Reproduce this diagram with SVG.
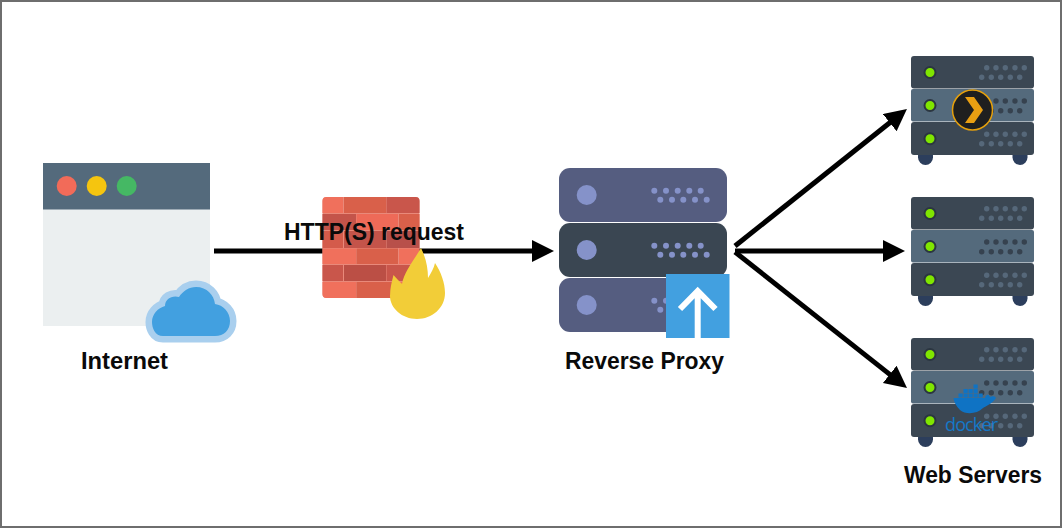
<svg xmlns="http://www.w3.org/2000/svg" xmlns:xlink="http://www.w3.org/1999/xlink" width="1062" height="528" viewBox="0 0 1062 528">
<style>
.label{font-family:"Liberation Sans",Arial,sans-serif;font-weight:700;fill:#0a0a0a}
.conn{stroke:#000;stroke-width:5;fill:none}
.led{fill:#80e600;stroke:#2b3640;stroke-width:2}
.d1{fill:#56687a}
.d2{fill:#36424f}
.p{fill:#8592c9}
</style>
<defs>
<marker id="head" markerUnits="userSpaceOnUse" markerWidth="24" markerHeight="24" refX="2" refY="11" orient="auto"><path d="M0 0L22 11L0 22Z" fill="#000"/></marker>
<g id="srv">
<rect x="918" y="148" width="15" height="17" rx="7.500" fill="#2c3e5c"/>
<rect x="1012.500" y="148" width="15" height="17" rx="7.500" fill="#2c3e5c"/>
<rect x="911" y="56" width="123" height="32.500" rx="3" fill="#3b4753"/>
<rect x="911" y="89" width="123" height="32.500" rx="2" fill="#546a7c"/>
<rect x="911" y="122" width="123" height="33" rx="3" fill="#3b4753"/>
<circle class="led" cx="930" cy="72.500" r="5.500"/><circle class="led" cx="930" cy="105.500" r="5.500"/><circle class="led" cx="930" cy="138.700" r="5.500"/>
<g class="d1"><circle cx="986.700" cy="67.700" r="2.700"/><circle cx="996" cy="67.700" r="2.700"/><circle cx="1005.300" cy="67.700" r="2.700"/><circle cx="1015" cy="67.700" r="2.700"/><circle cx="1024.300" cy="67.700" r="2.700"/><circle cx="981.700" cy="77.300" r="2.700"/><circle cx="991.300" cy="77.300" r="2.700"/><circle cx="1000.700" cy="77.300" r="2.700"/><circle cx="1010.300" cy="77.300" r="2.700"/><circle cx="1019.700" cy="77.300" r="2.700"/>
<circle cx="986.700" cy="134.300" r="2.700"/><circle cx="996" cy="134.300" r="2.700"/><circle cx="1005.300" cy="134.300" r="2.700"/><circle cx="1015" cy="134.300" r="2.700"/><circle cx="1024.300" cy="134.300" r="2.700"/><circle cx="981.700" cy="143.700" r="2.700"/><circle cx="991.300" cy="143.700" r="2.700"/><circle cx="1000.700" cy="143.700" r="2.700"/><circle cx="1010.300" cy="143.700" r="2.700"/><circle cx="1019.700" cy="143.700" r="2.700"/></g>
<g class="d2"><circle cx="986.700" cy="101" r="2.700"/><circle cx="996" cy="101" r="2.700"/><circle cx="1005.300" cy="101" r="2.700"/><circle cx="1015" cy="101" r="2.700"/><circle cx="1024.300" cy="101" r="2.700"/><circle cx="981.700" cy="110.700" r="2.700"/><circle cx="991.300" cy="110.700" r="2.700"/><circle cx="1000.700" cy="110.700" r="2.700"/><circle cx="1010.300" cy="110.700" r="2.700"/><circle cx="1019.700" cy="110.700" r="2.700"/></g>
</g>
<g id="pdots" class="p"><circle cx="654.300" cy="0" r="3"/><circle cx="666" cy="0" r="3"/><circle cx="677.700" cy="0" r="3"/><circle cx="689.300" cy="0" r="3"/><circle cx="700.700" cy="0" r="3"/><circle cx="660.300" cy="9" r="3"/><circle cx="672" cy="9" r="3"/><circle cx="683.300" cy="9" r="3"/><circle cx="695" cy="9" r="3"/><circle cx="706.700" cy="9" r="3"/></g>
</defs>
<rect width="1062" height="528" fill="#fff"/>
<rect x="1" y="1" width="1060" height="526" fill="none" stroke="#6e6e6e" stroke-width="2"/>

<g id="connectors">
<line class="conn" x1="214" y1="251" x2="534" y2="251" marker-end="url(#head)"/>
<line class="conn" x1="735" y1="246" x2="891.300" y2="121.500" marker-end="url(#head)"/>
<line class="conn" x1="735" y1="251" x2="885" y2="251" marker-end="url(#head)"/>
<line class="conn" x1="735" y1="252" x2="891.300" y2="375.600" marker-end="url(#head)"/>
</g>

<g id="internet">
<rect x="43" y="209" width="167" height="117" fill="#ebeff0"/>
<rect x="43" y="163" width="167" height="46.500" fill="#546a7c"/>
<circle cx="66.700" cy="186" r="10" fill="#f26b59"/>
<circle cx="96.700" cy="186" r="10" fill="#f5c50f"/>
<circle cx="126.700" cy="186" r="10" fill="#45b864"/>
<path d="M163 336C155 336 152 328 152 322C152 314 158 308 165 306C165 299 172 295 179 297C183 291 189 287 196 287C207 287 214 295 215 304C223 305 230 312 230 321C230 330 224 336 215 336Z" fill="#42a0e0" stroke="#a9cfee" stroke-width="13" stroke-linejoin="round" paint-order="stroke"/>
<text class="label" x="81" y="369" font-size="23" textLength="87" lengthAdjust="spacingAndGlyphs">Internet</text>
</g>

<g id="firewall">
<rect x="322.500" y="197" width="97" height="101" rx="4" fill="#e9897a"/>
<path d="M322.500 213V201a4 4 0 0 1 4-4H343V213Z" fill="#f0705c"/><rect x="344" y="197" width="42" height="16" fill="#d9604a"/><path d="M386.500 197H415.500a4 4 0 0 1 4 4V213H386.500Z" fill="#c9564b"/>
<rect x="322.500" y="214" width="33.500" height="16" fill="#c4544a"/><rect x="356.500" y="214" width="41.500" height="16" fill="#ee6a58"/><rect x="399" y="214" width="20.500" height="16" fill="#d9604a"/>
<rect x="322.500" y="231" width="20.500" height="17" fill="#d45b4b"/><rect x="344" y="231" width="42" height="17" fill="#c4544a"/><rect x="386.500" y="231" width="33" height="17" fill="#b8504a"/>
<rect x="322.500" y="248.500" width="33.500" height="15.500" fill="#f0705c"/><rect x="356.500" y="248.500" width="41.500" height="15.500" fill="#d9604a"/><rect x="399" y="248.500" width="20.500" height="15.500" fill="#f0705c"/>
<rect x="322.500" y="265" width="20.500" height="16" fill="#c9564b"/><rect x="344" y="265" width="42" height="16" fill="#bb4f45"/><rect x="386.500" y="265" width="33" height="16" fill="#c9564b"/>
<path d="M322.500 282H356V298H326.500a4 4 0 0 1-4-4Z" fill="#f0705c"/><rect x="356.500" y="282" width="41.500" height="16" fill="#d9604a"/><path d="M399 282H419.500V294a4 4 0 0 1-4 4H399Z" fill="#f0705c"/>
<path d="M421 248C426 258 428 268 428 278C431 273 434 268 435 263C441 272 445 283 445 293C445 308 432 319 417 319C402 319 390 308 390 296C390 288 392 281 393.500 275C396 278 399 281 402 284C404 272 414 260 421 248Z" fill="#f2cd38"/>
</g>
<text class="label" x="284" y="240" font-size="23" textLength="180" lengthAdjust="spacingAndGlyphs">HTTP(S) request</text>

<g id="reverse-proxy">
<rect x="559" y="168" width="168" height="54" rx="11" fill="#555d80"/>
<rect x="559" y="223" width="168" height="54" rx="11" fill="#3a4652"/>
<rect x="559" y="278" width="168" height="54" rx="11" fill="#555d80"/>
<circle class="p" cx="586.700" cy="195" r="10"/><circle class="p" cx="586.700" cy="250" r="10"/><circle class="p" cx="586.700" cy="305" r="10"/>
<use xlink:href="#pdots" href="#pdots" y="190.700"/><use xlink:href="#pdots" href="#pdots" y="245.700"/><use xlink:href="#pdots" href="#pdots" y="300.700"/>
<rect x="666" y="274" width="63.500" height="64" fill="#42a0e0"/>
<path d="M697.700 338V291M680 309L697.700 291L715.500 309" fill="none" stroke="#fff" stroke-width="6"/>
<text class="label" x="565" y="369" font-size="23" textLength="159" lengthAdjust="spacingAndGlyphs">Reverse Proxy</text>
</g>

<g id="web-server-plex">
<use xlink:href="#srv" href="#srv"/>
<circle cx="972.500" cy="110" r="20" fill="#1f1f1f" stroke="#e5a00d" stroke-width="1.500"/>
<path d="M965 97H974L983 110L974 123H965L974 110Z" fill="#e99f12"/>
</g>
<g id="web-server-plain"><use xlink:href="#srv" href="#srv" y="141"/></g>
<g id="web-server-docker">
<use xlink:href="#srv" href="#srv" y="282"/>
<g fill="#0f73c4">
<path d="M953.500 398H985C986 394 989 394 990 397C992 396 995 396 996 398C992 404 986 406 983 408C977 414 966 415 960 410C956 406 954 402 953.500 398Z"/>
<rect x="958.500" y="393.500" width="4.200" height="4"/><rect x="963.500" y="393.500" width="4.200" height="4"/><rect x="968.500" y="393.500" width="4.200" height="4"/><rect x="973.500" y="393.500" width="4.200" height="4"/><rect x="978.500" y="393.500" width="4.200" height="4"/>
<rect x="963.500" y="389" width="4.200" height="4"/><rect x="968.500" y="389" width="4.200" height="4"/><rect x="973.500" y="389" width="4.200" height="4"/>
<rect x="973.500" y="384.500" width="4.200" height="4"/>
</g>
<text x="945" y="431" font-family="'Open Sans','Liberation Sans',sans-serif" font-size="18" fill="#1578c8" textLength="53" lengthAdjust="spacing">docker</text>
</g>
<text class="label" x="904" y="483" font-size="23" textLength="138" lengthAdjust="spacingAndGlyphs">Web Servers</text>
</svg>
